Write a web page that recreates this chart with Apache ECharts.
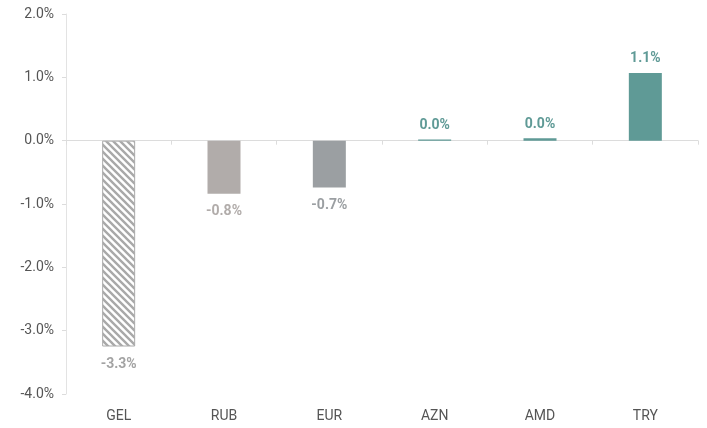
<!DOCTYPE html>
<html>
<head>
<meta charset="utf-8">
<script src="https://cdn.jsdelivr.net/npm/echarts@6/dist/echarts.min.js"></script>
<style>
  html, body { margin: 0; padding: 0; background: #fff; }
  #chart { width: 707px; height: 428px; }
</style>
</head>
<body>
<div id="chart"></div>
<script>
const categories = ['GEL', 'RUB', 'EUR', 'AZN', 'AMD', 'TRY'];
const values = [-3.25, -0.84, -0.74, 0.02, 0.04, 1.07];
const barColors = ['hatch', '#b1acaa', '#9b9fa2', '#5f9a96', '#5f9a96', '#5f9a96'];
const yTicks = [-4, -3, -2, -1, 0, 1, 2];

// diagonal hatch for GEL
function hatchPattern() {
  const c = document.createElement('canvas');
  c.width = 7; c.height = 7;
  const ctx = c.getContext('2d');
  ctx.fillStyle = '#fff';
  ctx.fillRect(0, 0, 7, 7);
  ctx.strokeStyle = '#a9a9a9';
  ctx.lineWidth = 2.4;
  ctx.beginPath();
  ctx.moveTo(-7, -7); ctx.lineTo(14, 14);
  ctx.moveTo(-7, 0); ctx.lineTo(7, 14);
  ctx.moveTo(0, -7); ctx.lineTo(14, 7);
  ctx.stroke();
  return c;
}

const data = values.map((v, i) => {
  const col = barColors[i];
  const isHatch = col === 'hatch';
  return {
    value: v,
    itemStyle: isHatch
      ? { color: { image: hatchPattern(), repeat: 'repeat' }, borderColor: '#aaaaaa', borderWidth: 1 }
      : { color: col },
    label: {
      position: v < 0 ? 'bottom' : 'top',
      distance: v < 0 ? 11 : 7,
      color: isHatch ? '#a3a3a3' : col
    }
  };
});

const chart = echarts.init(document.getElementById('chart'));
chart.setOption({
  animation: false,
  grid: { left: 66, right: 9, top: 14, bottom: 34 },
  xAxis: [
    {
      type: 'category',
      data: categories,
      axisLine: { onZero: true, lineStyle: { color: '#dcdcdc' } },
      axisTick: { show: true, length: 4, lineStyle: { color: '#dcdcdc' } },
      axisLabel: { show: false }
    },
    {
      // category names along the bottom, not at the zero line
      type: 'category',
      data: categories,
      position: 'bottom',
      axisLine: { show: false, onZero: false },
      axisTick: { show: false },
      axisLabel: { color: '#555', fontFamily: 'Roboto', fontSize: 14, margin: 15 }
    }
  ],
  yAxis: {
    type: 'value',
    min: yTicks[0],
    max: yTicks[yTicks.length - 1],
    interval: 1,
    axisLine: { show: true, lineStyle: { color: '#e3e3e3' } },
    axisTick: { show: true, length: 4, lineStyle: { color: '#dcdcdc' } },
    splitLine: { show: false },
    axisLabel: {
      color: '#555',
      fontFamily: 'Roboto',
      fontSize: 14,
      margin: 12,
      formatter: v => v.toFixed(1) + '%'
    }
  },
  series: [
    {
      type: 'bar',
      xAxisIndex: 0,
      data: data,
      barWidth: 33,
      label: {
        show: true,
        fontFamily: 'Roboto',
        fontWeight: 'bold',
        fontSize: 14,
        formatter: p => p.value.toFixed(1) + '%'
      }
    }
  ]
});
</script>
</body>
</html>
